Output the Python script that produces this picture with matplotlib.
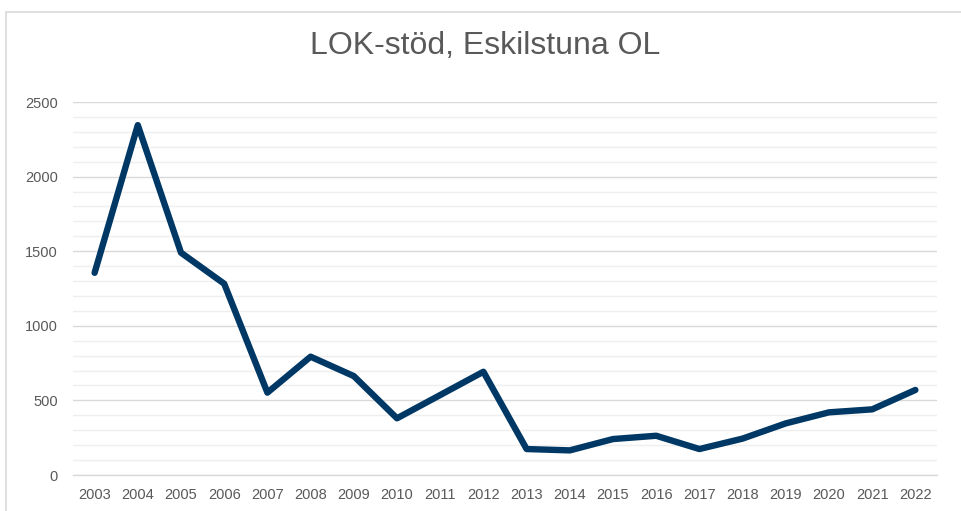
import matplotlib.pyplot as plt
from matplotlib.patches import Rectangle
from matplotlib.ticker import MultipleLocator

plt.rcParams['font.family'] = ['Liberation Sans', 'DejaVu Sans']

# data
years = ["2003", "2004", "2005", "2006", "2007", "2008", "2009", "2010", "2011", "2012",
         "2013", "2014", "2015", "2016", "2017", "2018", "2019", "2020", "2021", "2022"]
lok_stod = [1355, 2345, 1490, 1282, 552, 793, 663, 380, 536, 692,
            174, 165, 241, 263, 174, 244, 346, 420, 440, 570]

text_col = "#595959"
line_col = "#003865"

fig = plt.figure(figsize=(9.61, 5.11), dpi=100)
ax = fig.add_axes([73 / 961, 1 - 475 / 511, (937 - 73) / 961, (475 - 102) / 511])

# chart border (only left/top visible in the reference crop)
fig.patches.append(Rectangle((6 / 961, -0.5), 2, 0.5 + 1 - 12 / 511,
                             transform=fig.transFigure, fill=False,
                             edgecolor="#d9d9d9", linewidth=1.2))

x = list(range(len(years)))
ax.plot(x, lok_stod, color=line_col, linewidth=4.6, solid_joinstyle="round",
        solid_capstyle="round", zorder=3)

ax.set_xlim(-0.5, len(years) - 0.5)
ax.set_ylim(0, 2500)
ax.yaxis.set_major_locator(MultipleLocator(500))
ax.yaxis.set_minor_locator(MultipleLocator(100))
ax.set_xticks(x)
ax.set_xticklabels(years)

ax.grid(axis="y", which="major", color="#d9d9d9", linewidth=1.0, zorder=0)
ax.grid(axis="y", which="minor", color="#efefef", linewidth=1.0, zorder=0)
ax.set_axisbelow(True)

for s in ["top", "right", "left"]:
    ax.spines[s].set_visible(False)
ax.spines["bottom"].set_color("#d9d9d9")
ax.spines["bottom"].set_linewidth(1.0)

ax.tick_params(axis="both", which="both", length=0, colors=text_col, labelsize=10.5)
ax.tick_params(axis="y", pad=11)
ax.tick_params(axis="x", pad=9)

fig.text(485 / 961, 1 - 46 / 511, "LOK-stöd, Eskilstuna OL", ha="center", va="center",
         fontsize=23, color=text_col)

fig.savefig("out.png", dpi=100)
